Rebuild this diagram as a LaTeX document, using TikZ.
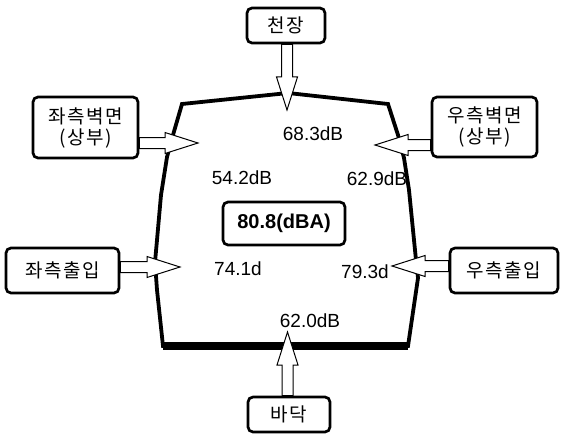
\documentclass[tikz,border=0pt]{standalone}
\usepackage{fontspec}
\setmainfont{Liberation Sans}
\newfontfamily\krfont[LetterSpace=8]{Noto Sans CJK KR}
\usetikzlibrary{calc}
\tikzset{
  spot/.style={draw, rounded corners=2.5pt, line width=1.35pt, fill=white,
    align=center, inner sep=0pt, font=\krfont\fontsize{9.5}{10.5}\selectfont},
  level/.style={inner sep=0pt, font=\fontsize{9.5}{11}\selectfont},
  total/.style={draw, rounded corners=2.5pt, line width=1.35pt, inner sep=0pt,
    minimum width=61pt, minimum height=21.5pt, font=\bfseries\fontsize{10}{12}\selectfont},
  fatarrow/.style={fill=white, draw=black, line width=0.5pt, line join=miter}
}
% block arrow from #1 (start) to #2 (tip)
\newcommand\inflow[2]{%
  \coordinate (hb) at ($(#2)!16.5pt!(#1)$);
  \filldraw[fatarrow] ($(#1)!2.75pt!90:(#2)$) -- ($(hb)!2.75pt!90:(#2)$)
    -- ($(hb)!5.25pt!90:(#2)$) -- (#2) -- ($(hb)!5.25pt!-90:(#2)$)
    -- ($(hb)!2.75pt!-90:(#2)$) -- ($(#1)!2.75pt!-90:(#2)$) -- cycle;
}

\begin{document}
\begin{tikzpicture}[x=0.5pt,y=-0.5pt]
\useasboundingbox (0,0) rectangle (561,433);

% sources
\node[spot, minimum width=39pt, minimum height=17.5pt] (ceil) at (286,25.5) {천장};
\node[spot, minimum width=52.5pt, minimum height=30.5pt] (lwall) at (85.5,127.5) {좌측벽면\\(상부)};
\node[spot, minimum width=56.5pt, minimum height=22.5pt] (ldoor) at (62.5,270.5) {좌측출입};
\node[spot, minimum width=52.5pt, minimum height=30pt] (rwall) at (484.5,127) {우측벽면\\(상부)};
\node[spot, minimum width=54pt, minimum height=22.5pt] (rdoor) at (504,270.5) {우측출입};
\node[spot, minimum width=41pt, minimum height=17.5pt] (floor) at (289,414.5) {바닥};

% room outline
\draw[line width=1.9pt, line join=miter]
  (182,104) -- (288,93) -- (388,104) -- (398,135) -- (404,158) -- (409,190)
  -- (413,230) -- (416,260) -- (418,278) -- (408,346) -- (163,346)
  -- (157,290) -- (155,262) -- (157,240) -- (161,195) -- (167,157)
  -- (173,135) -- cycle;
\draw[line width=4pt] (163,346) -- (408,346);

% arrow tips
\coordinate (ceilt) at (287,110);
\coordinate (lwallt) at (198,143);
\coordinate (ldoort) at (180,267);
\coordinate (rwallt) at (375,145);
\coordinate (rdoort) at (392,266);
\coordinate (floort) at (287.5,332);

\inflow{ceil.south -| ceilt}{ceilt}
\inflow{lwall.east |- lwallt}{lwallt}
\inflow{ldoor.east |- ldoort}{ldoort}
\inflow{rwall.west |- rwallt}{rwallt}
\inflow{rdoor.west |- rdoort}{rdoort}
\inflow{floor.north -| floort}{floort}

% measured levels
\node[level] (top) at (313,134) {68.3dB};
\node[level] (ul) at (242,178) {54.2dB};
\node[level] (ur) at (377,179) {62.9dB};
\node[level] (ll) at (238,269) {74.1d};
\node[level] (lr) at (365,272) {79.3d};
\node[level] (bot) at (310,321) {62.0dB};
\node[total] (sum) at (284,223.5) {80.8(dBA)};
\end{tikzpicture}
\end{document}
